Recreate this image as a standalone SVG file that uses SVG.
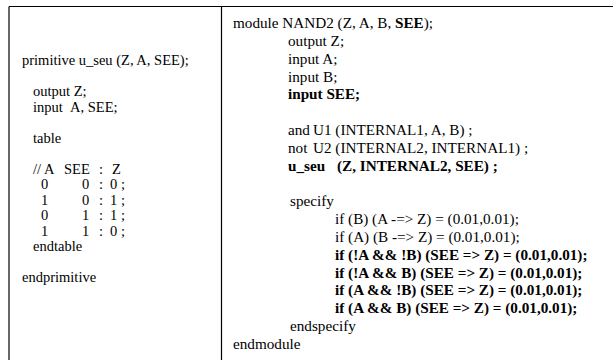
<svg xmlns="http://www.w3.org/2000/svg" width="613" height="360" viewBox="0 0 613 360">
  <style>
    text { font-family: "Liberation Serif", "Times New Roman", serif; font-size: 15.2px; fill: #000; }
    #primitive text { font-size: 14.5px; }
    .b { font-weight: bold; }
    .rule { stroke: #000; stroke-width: 1.2; fill: none; }
  </style>
  <rect width="613" height="360" fill="#fff"/>

  <!-- table rules -->
  <g id="frame">
    <line class="rule" x1="9" y1="6.5" x2="613" y2="6.5"/>
    <line class="rule" x1="9" y1="6.5" x2="9" y2="360"/>
    <line class="rule" x1="221.5" y1="6.5" x2="221.5" y2="360"/>
  </g>

  <!-- left cell: UDP definition -->
  <g id="primitive">
    <text x="22" y="65">primitive u_seu (Z, A, SEE);</text>
    <text x="33" y="96">output Z;</text>
    <text y="111.5"><tspan x="33">input</tspan><tspan x="70">A, SEE;</tspan></text>
    <text x="33" y="142.5">table</text>
    <text y="173.5"><tspan x="33">// A</tspan><tspan x="64">SEE</tspan><tspan x="99">:</tspan><tspan x="112">Z</tspan></text>
    <text y="189"><tspan x="41">0</tspan><tspan x="82">0</tspan><tspan x="99">:</tspan><tspan x="110">0 ;</tspan></text>
    <text y="204.5"><tspan x="41">1</tspan><tspan x="82">0</tspan><tspan x="99">:</tspan><tspan x="110">1 ;</tspan></text>
    <text y="220"><tspan x="41">0</tspan><tspan x="82">1</tspan><tspan x="99">:</tspan><tspan x="110">1 ;</tspan></text>
    <text y="235.5"><tspan x="41">1</tspan><tspan x="82">1</tspan><tspan x="99">:</tspan><tspan x="110">0 ;</tspan></text>
    <text x="33" y="251">endtable</text>
    <text x="22" y="282">endprimitive</text>
  </g>

  <!-- right cell: NAND2 module -->
  <g id="module">
    <text x="233" y="28">module NAND2 (Z, A, B, <tspan class="b">SEE</tspan>);</text>
    <text x="288" y="45.8">output Z;</text>
    <text x="288" y="63.7">input A;</text>
    <text x="288" y="81.5">input B;</text>
    <text x="288" y="99.3" class="b">input SEE;</text>
    <text y="135"><tspan x="288">and</tspan><tspan x="313">U1 (INTERNAL1, A, B) ;</tspan></text>
    <text y="152.8"><tspan x="288">not</tspan><tspan x="313">U2 (INTERNAL2, INTERNAL1) ;</tspan></text>
    <text y="170.6" class="b"><tspan x="288">u_seu</tspan><tspan x="337">(Z, INTERNAL2, SEE) ;</tspan></text>
    <text x="290" y="206.3">specify</text>
    <text x="335" y="224.1">if (B) (A -=&gt; Z) = (0.01,0.01);</text>
    <text x="335" y="241.9">if (A) (B -=&gt; Z) = (0.01,0.01);</text>
    <text x="335" y="259.8" class="b">if (!A &amp;&amp; !B) (SEE =&gt; Z) = (0.01,0.01);</text>
    <text x="335" y="277.6" class="b">if (!A &amp;&amp; B) (SEE =&gt; Z) = (0.01,0.01);</text>
    <text x="335" y="295.4" class="b">if (A &amp;&amp; !B) (SEE =&gt; Z) = (0.01,0.01);</text>
    <text x="335" y="313.2" class="b">if (A &amp;&amp; B) (SEE =&gt; Z) = (0.01,0.01);</text>
    <text x="290" y="331">endspecify</text>
    <text x="233" y="348.9">endmodule</text>
  </g>
</svg>
